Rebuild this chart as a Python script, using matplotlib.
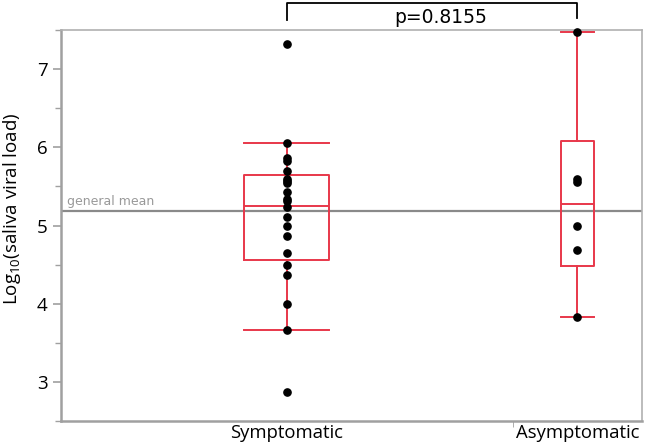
import matplotlib
matplotlib.use("Agg")
import matplotlib.pyplot as plt
import matplotlib.transforms as mtransforms
from matplotlib.ticker import MultipleLocator, FixedLocator

plt.rcParams["font.family"] = ["Open Sans", "DejaVu Sans"]

groups = ["Symptomatic", "Asymptomatic"]
symptomatic = [7.32, 6.06, 5.86, 5.83, 5.70, 5.60, 5.57, 5.54, 5.43, 5.34, 5.31,
               5.24, 5.115, 5.00, 4.87, 4.65, 4.49, 4.37, 4.00, 3.67, 2.87]
asymptomatic = [7.47, 5.60, 5.56, 5.00, 4.69, 3.83]

# box statistics (JMP quantiles)
q1 = [4.56, 4.48]
median = [5.25, 5.28]
q3 = [5.64, 6.08]
whisker_lo = [3.67, 3.83]
whisker_hi = [6.06, 7.47]
general_mean = 5.18
p_text = "p=0.8155"

BOX_RED = "#e8374a"
GREY = "#a0a0a0"

# group widths on the x axis follow sample size, like JMP
counts = [len(symptomatic), len(asymptomatic)]
positions = [counts[0] / 2, counts[0] + counts[1] / 2]
box_widths = [3.95, 1.53]

fig = plt.figure(figsize=(6.45, 4.42), dpi=100)
ax = fig.add_axes([0.0946, 0.0475, 0.9007, 0.8845])

stats = []
for i, name in enumerate(groups):
    stats.append(dict(label=name, med=median[i], q1=q1[i], q3=q3[i],
                      whislo=whisker_lo[i], whishi=whisker_hi[i], fliers=[]))

line_kw = dict(color=BOX_RED, linewidth=1.4)
ax.bxp(stats, positions=positions, widths=box_widths, capwidths=box_widths,
       showfliers=False, boxprops=line_kw, whiskerprops=line_kw,
       capprops=line_kw, medianprops=line_kw, zorder=2)

for pos, vals in zip(positions, [symptomatic, asymptomatic]):
    ax.plot([pos] * len(vals), vals, "o", color="black", markersize=5.2,
            zorder=3, clip_on=False)

ax.axhline(general_mean, color="#8a8a8a", linewidth=1.6, zorder=1)
ax.text(0.3, general_mean + 0.05, "general mean", color="#999999",
        fontsize=9, va="bottom", ha="left", family="DejaVu Sans")

ax.set_xlim(0, sum(counts))
ax.set_ylim(2.5, 7.5)
ax.set_xticks(positions)
ax.set_xticklabels(groups, fontsize=13.3)
ax.xaxis.set_minor_locator(FixedLocator([counts[0]]))
ax.tick_params(axis="x", which="major", length=0, pad=2)
ax.tick_params(axis="x", which="minor", length=4, color=GREY)

ax.set_yticks([3, 4, 5, 6, 7])
ax.yaxis.set_minor_locator(MultipleLocator(0.5))
ax.tick_params(axis="y", which="major", labelsize=13.5, length=6, color=GREY, width=1.2)
ax.tick_params(axis="y", which="minor", length=4, color=GREY, width=1.0)
ax.set_ylabel(r"Log$_{\mathregular{10}}$(saliva viral load)", fontsize=13.5,
              va="center")
ax.yaxis.set_label_coords(-0.084, 0.542)

for side in ["left", "bottom"]:
    ax.spines[side].set_color(GREY)
    ax.spines[side].set_linewidth(1.8)
for side in ["top", "right"]:
    ax.spines[side].set_color("#b0b0b0")
    ax.spines[side].set_linewidth(1.2)

# significance bracket above the plot
trans = mtransforms.blended_transform_factory(ax.transData, ax.transAxes)
ax.plot([positions[0], positions[0], positions[1], positions[1]],
        [1.027, 1.068, 1.068, 1.03], color="black", linewidth=1.3,
        transform=trans, clip_on=False)
ax.text(sum(positions) / 2 + 0.4, 1.056, p_text, transform=trans, ha="center",
        va="top", fontsize=13.5, family="DejaVu Sans")

plt.savefig("out.png", dpi=100)
plt.close()
